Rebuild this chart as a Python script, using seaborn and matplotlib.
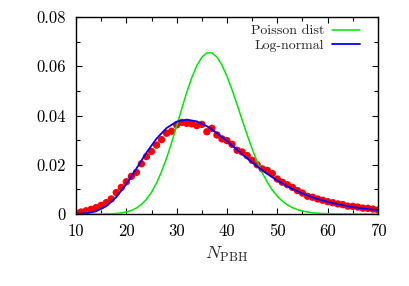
import numpy as np
import pandas as pd
import matplotlib
matplotlib.use("Agg")
import matplotlib.pyplot as plt
from matplotlib.ticker import FixedLocator, FixedFormatter, MultipleLocator
import seaborn as sns

# ---------------- data ----------------
n_points = list(range(10, 71))
sim_values = [0.0003, 0.0008, 0.0013, 0.0019, 0.0026, 0.0035, 0.0046, 0.0061, 0.0087, 0.0108,
              0.0131, 0.0153, 0.0169, 0.0204, 0.0233, 0.0254, 0.0280, 0.0302, 0.0328, 0.0336,
              0.0362, 0.0372, 0.0368, 0.0366, 0.0359, 0.0364, 0.0334, 0.0348, 0.0321, 0.0305,
              0.0298, 0.0283, 0.0259, 0.0252, 0.0237, 0.0218, 0.0200, 0.0183, 0.0177, 0.0164,
              0.0142, 0.0129, 0.0119, 0.0108, 0.0095, 0.0085, 0.0072, 0.0068, 0.0061, 0.0056,
              0.0050, 0.0046, 0.0041, 0.0038, 0.0032, 0.0031, 0.0028, 0.0024, 0.0023, 0.0020,
              0.0016]

poisson_n = list(range(10, 71))
poisson_values = [0.0, 0.0, 0.0, 0.0, 0.00001, 0.00002, 0.00005, 0.00011, 0.00023, 0.00044,
                  0.00081, 0.00143, 0.00240, 0.00387, 0.00596, 0.00882, 0.01255, 0.01720, 0.02273, 0.02900,
                  0.03577, 0.04270, 0.04937, 0.05535, 0.06023, 0.06367, 0.06544, 0.06544, 0.06372, 0.06045,
                  0.05592, 0.05046, 0.04445, 0.03825, 0.03216, 0.02644, 0.02127, 0.01674, 0.01291, 0.00975,
                  0.00721, 0.00523, 0.00372, 0.00260, 0.00178, 0.00120, 0.00079, 0.00051, 0.00033, 0.00021,
                  0.00013, 0.00008, 0.00005, 0.00003, 0.00002, 0.00001, 0.0, 0.0, 0.0, 0.0,
                  0.0]

lognorm_n = list(range(10, 71, 2))
lognorm_values = [0.00003, 0.00026, 0.00110, 0.00315, 0.00685, 0.01214, 0.01846, 0.02493, 0.03063, 0.03493,
                  0.03751, 0.03833, 0.03761, 0.03566, 0.03287, 0.02958, 0.02608, 0.02261, 0.01932, 0.01629,
                  0.01360, 0.01124, 0.00922, 0.00751, 0.00609, 0.00490, 0.00394, 0.00315, 0.00251, 0.00199,
                  0.00158]

x_ticks = [10, 20, 30, 40, 50, 60, 70]
x_tick_labels = ["10", "20", "30", "40", "50", "60", "70"]
y_ticks = [0.0, 0.02, 0.04, 0.06, 0.08]
y_tick_labels = ["0", "0.02", "0.04", "0.06", "0.08"]
series_labels = ["Poisson dist", "Log-normal"]

# ---------------- style ----------------
sns.set_style("ticks")
plt.rcParams["font.family"] = ["cmr10", "DejaVu Serif"]
plt.rcParams["mathtext.fontset"] = "cm"
plt.rcParams["axes.formatter.use_mathtext"] = True

fig = plt.figure(figsize=(4.09, 2.86), dpi=100)
ax = fig.add_axes([76 / 409, 1 - 214 / 286, (378 - 76) / 409, (214 - 17) / 286])

sim_df = pd.DataFrame({"N": n_points, "P": sim_values})
poi_df = pd.DataFrame({"N": poisson_n, "P": poisson_values})
log_df = pd.DataFrame({"N": lognorm_n, "P": lognorm_values})

sns.scatterplot(data=sim_df, x="N", y="P", ax=ax, color="#ff0000", s=28,
                edgecolor="none", legend=False, zorder=2)
sns.lineplot(data=poi_df, x="N", y="P", ax=ax, color="#00e600", lw=1.1,
             label=series_labels[0], zorder=3)
sns.lineplot(data=log_df, x="N", y="P", ax=ax, color="#0000ff", lw=1.3,
             label=series_labels[1], zorder=4)

ax.set_xlim(10, 70)
ax.set_ylim(0, 0.08)
ax.xaxis.set_major_locator(FixedLocator(x_ticks))
ax.xaxis.set_major_formatter(FixedFormatter(x_tick_labels))
ax.yaxis.set_major_locator(FixedLocator(y_ticks))
ax.yaxis.set_major_formatter(FixedFormatter(y_tick_labels))
ax.xaxis.set_minor_locator(MultipleLocator(5))
ax.yaxis.set_minor_locator(MultipleLocator(0.01))

ax.tick_params(which="both", direction="in", top=True, right=True, colors="black")
ax.tick_params(which="major", length=4.5, width=0.8, labelsize=12)
ax.tick_params(which="minor", length=2.6, width=0.8)
ax.tick_params(axis="x", which="major", pad=7)
ax.tick_params(axis="y", which="major", pad=7.5)
for sp in ax.spines.values():
    sp.set_linewidth(1.0)
    sp.set_color("black")

ax.set_xlabel(r"$N_{\rm PBH}$", fontsize=13, labelpad=4)
ax.set_ylabel("")

leg = ax.legend(loc="upper right", bbox_to_anchor=(0.968, 1.003), frameon=False,
                markerfirst=False, fontsize=10, handlelength=2.0, handletextpad=0.6,
                labelspacing=0.15, borderaxespad=0.2)

fig.savefig("out.png", dpi=100)
